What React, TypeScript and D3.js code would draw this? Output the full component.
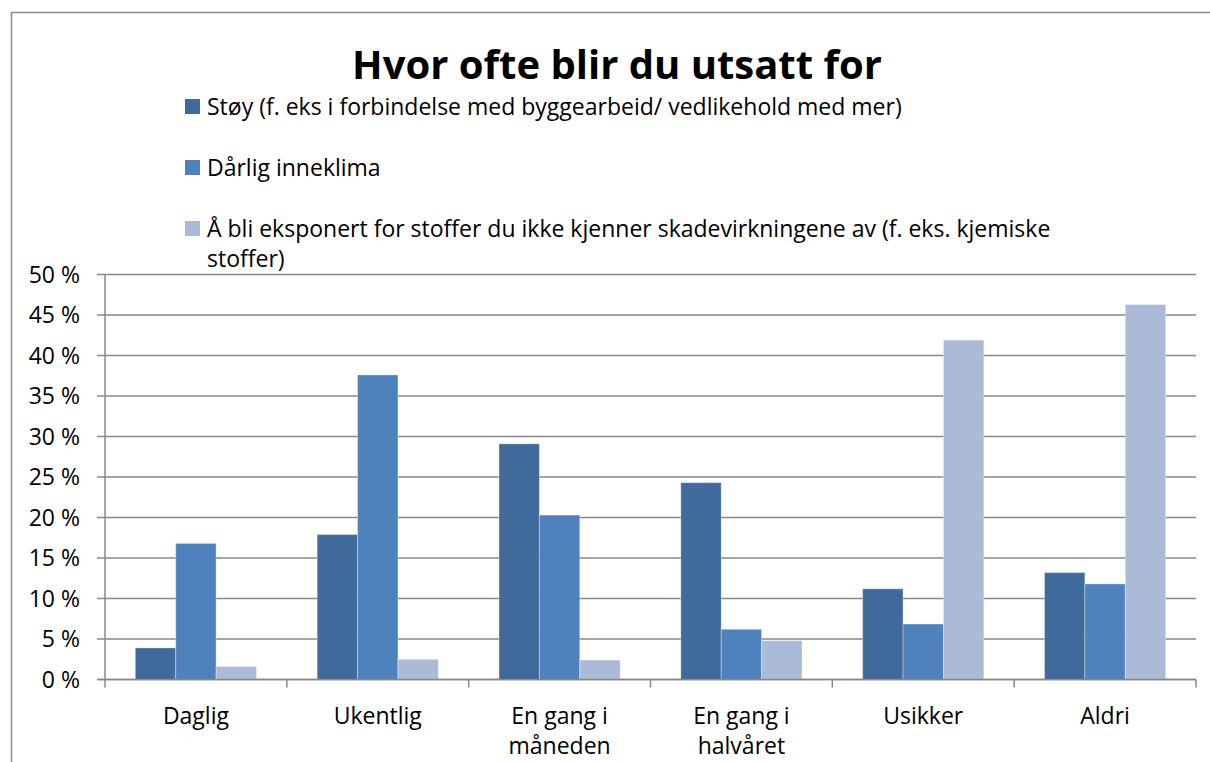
import React, { useEffect, useRef } from 'react';
import * as d3 from 'd3';

const categories: string[][] = [
  ['Daglig'],
  ['Ukentlig'],
  ['En gang i', 'måneden'],
  ['En gang i', 'halvåret'],
  ['Usikker'],
  ['Aldri'],
];
const seriesNames: string[][] = [
  ['Støy (f. eks i forbindelse med byggearbeid/ vedlikehold med mer)'],
  ['Dårlig inneklima'],
  ['Å bli eksponert for stoffer du ikke kjenner skadevirkningene av (f. eks. kjemiske', 'stoffer)'],
];
const stoy = [3.9, 17.9, 29.1, 24.3, 11.2, 13.2];
const inneklima = [16.8, 37.6, 20.3, 6.2, 6.85, 11.8];
const stoffer = [1.6, 2.5, 2.4, 4.8, 41.9, 46.3];
const yTicks = [0, 5, 10, 15, 20, 25, 30, 35, 40, 45, 50];
const colors = ['#416a9c', '#4f81bd', '#aabad7'];

const FONT = '"Open Sans", Lato, sans-serif';
const FS = 23;

export default function App() {
  const ref = useRef<SVGSVGElement>(null);

  useEffect(() => {
    const svg = d3.select(ref.current);
    svg.selectAll('*').remove();

    const series = [stoy, inneklima, stoffer];
    const catKeys = categories.map((c) => c.join(' '));

    const x0 = d3.scaleBand().domain(catKeys).range([105, 1196]).padding(0);
    const x1 = d3
      .scaleBand()
      .domain(['0', '1', '2'])
      .range([0, x0.bandwidth()])
      .paddingInner(0)
      .paddingOuter(0.75);
    const y = d3.scaleLinear().domain([0, 50]).range([679.5, 274.5]);

    // outer border
    svg.append('rect')
      .attr('x', 11.5).attr('y', 12.5)
      .attr('width', 1220).attr('height', 800)
      .attr('fill', 'white')
      .attr('stroke', '#8c8c8c').attr('stroke-width', 1.5);

    // title
    svg.append('text')
      .attr('x', 617).attr('y', 79)
      .attr('text-anchor', 'middle')
      .attr('font-family', FONT)
      .attr('font-weight', 'bold')
      .attr('font-size', 40)
      .attr('fill', '#000')
      .text('Hvor ofte blir du utsatt for');

    // legend
    const legendY = [115, 176, 237];
    seriesNames.forEach((lines, i) => {
      svg.append('rect')
        .attr('x', 185).attr('y', legendY[i] - 16)
        .attr('width', 15).attr('height', 15)
        .attr('fill', colors[i]);
      lines.forEach((ln, j) => {
        svg.append('text')
          .attr('x', 207).attr('y', legendY[i] + j * 30)
          .attr('font-family', FONT)
          .attr('font-size', FS)
          .attr('fill', '#000')
          .text(ln);
      });
    });

    // gridlines + y ticks
    const grid = svg.append('g');
    yTicks.forEach((t) => {
      grid.append('line')
        .attr('x1', 97).attr('x2', 1196)
        .attr('y1', y(t)).attr('y2', y(t))
        .attr('stroke', '#888').attr('stroke-width', 1.5);
      grid.append('text')
        .attr('x', 80).attr('y', y(t) + 8)
        .attr('text-anchor', 'end')
        .attr('font-family', FONT)
        .attr('font-size', FS)
        .attr('fill', '#000')
        .text(t + ' %');
    });

    // bars
    series.forEach((vals, si) => {
      svg.append('g')
        .selectAll('rect')
        .data(vals)
        .enter()
        .append('rect')
        .attr('x', (d, i) => (x0(catKeys[i]) as number) + (x1(String(si)) as number))
        .attr('y', (d) => y(d))
        .attr('width', x1.bandwidth())
        .attr('height', (d) => y(0) - y(d))
        .attr('fill', colors[si])
        .attr('stroke', 'rgba(255,255,255,0.35)')
        .attr('stroke-width', 1);
    });

    // axes
    svg.append('line')
      .attr('x1', 105).attr('x2', 105)
      .attr('y1', y(50)).attr('y2', y(0))
      .attr('stroke', '#888').attr('stroke-width', 1.5);
    svg.append('line')
      .attr('x1', 97).attr('x2', 1196)
      .attr('y1', y(0)).attr('y2', y(0))
      .attr('stroke', '#888').attr('stroke-width', 1.5);
    const bounds = catKeys.map((k) => x0(k) as number).concat([1196]);
    bounds.forEach((b) => {
      svg.append('line')
        .attr('x1', b).attr('x2', b)
        .attr('y1', y(0)).attr('y2', y(0) + 8)
        .attr('stroke', '#888').attr('stroke-width', 1.5);
    });

    // category labels
    categories.forEach((lines, i) => {
      const cx = (x0(catKeys[i]) as number) + x0.bandwidth() / 2;
      lines.forEach((ln, j) => {
        svg.append('text')
          .attr('x', cx).attr('y', 724 + j * 30)
          .attr('text-anchor', 'middle')
          .attr('font-family', FONT)
          .attr('font-size', FS)
          .attr('fill', '#000')
          .text(ln);
      });
    });
  }, []);

  return (
    <svg
      ref={ref}
      width={1210}
      height={762}
      style={{ position: 'absolute', left: 0, top: 0, background: 'white' }}
    />
  );
}
